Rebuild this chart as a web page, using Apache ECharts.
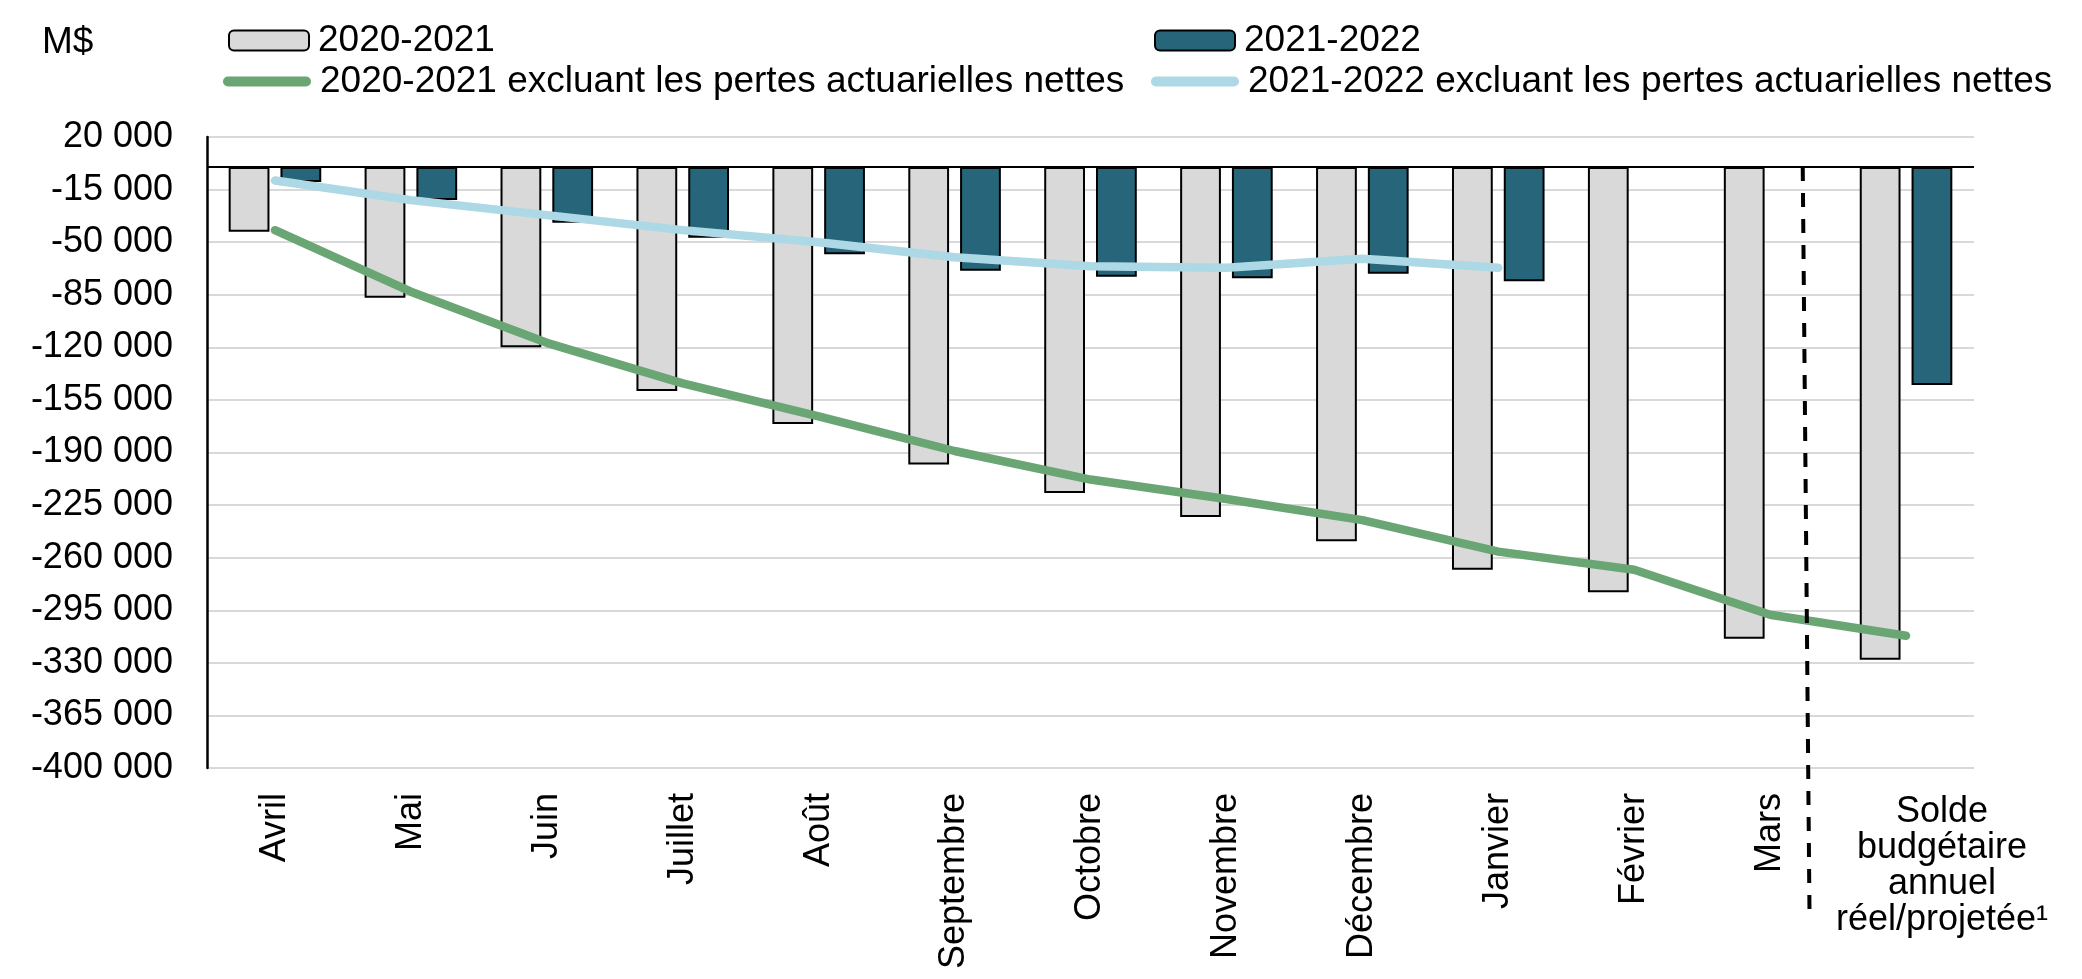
<!DOCTYPE html>
<html>
<head>
<meta charset="utf-8">
<script src="https://cdn.jsdelivr.net/npm/echarts@6/dist/echarts.min.js"></script>
<style>
  html, body { margin: 0; padding: 0; background: #fff; }
  #chart { width: 2082px; height: 979px; }
</style>
</head>
<body>
<div id="chart"></div>
<script>
// ---- Data (M$) ----
const categories = ['Avril', 'Mai', 'Juin', 'Juillet', 'Août', 'Septembre', 'Octobre', 'Novembre', 'Décembre', 'Janvier', 'Février', 'Mars', 'Solde\nbudgétaire\nannuel\nréel/projetée¹'];
const bars2020 = [-43000, -87000, -120000, -149000, -171000, -198000, -217000, -233000, -249000, -268000, -283000, -314000, -328000];
const bars2021 = [-10000, -22000, -37000, -47000, -58000, -69000, -73000, -74000, -71000, -76000, null, null, -145000];
const line2020 = [-42000, -83000, -117000, -144000, -166000, -189000, -208000, -221000, -235000, -256000, -268000, -298000, -312000];
const line2021 = [-9000, -22000, -32000, -42000, -50000, -60000, -66000, -67000, -61000, -67000, null, null, null];
const seriesNames = ['2020-2021', '2021-2022', '2020-2021 excluant les pertes actuarielles nettes', '2021-2022 excluant les pertes actuarielles nettes'];
const yTicks = { min: -400000, max: 20000, interval: 35000 };
// separator between months and annual balance, in [category position, value]
const separatorLine = [[11.74, 0], [11.79, -499000]];

const FONT = '"Liberation Sans", Arial, sans-serif';
const FS = 36;
const LFS = 37;
const fmt = v => (v < 0 ? '-' : '') + String(Math.abs(v)).replace(/\B(?=(\d{3})+(?!\d))/g, ' ');
const capsule = 'path://M5,0 L83,0 A5,5 0 0 1 83,10 L5,10 A5,5 0 0 1 5,0 Z';

const chart = echarts.init(document.getElementById('chart'), null, { renderer: 'canvas' });
const legendBase = {
  orient: 'horizontal', padding: 0, itemGap: 0,
  textStyle: { fontFamily: FONT, fontSize: LFS, color: '#000', padding: [0, 0, 0, 4] },
  selectedMode: false
};
chart.setOption({
  animation: false,
  backgroundColor: '#fff',
  textStyle: { fontFamily: FONT },
  title: { text: 'M$', left: 42, top: 24, padding: 0, textStyle: { fontFamily: FONT, fontSize: LFS, fontWeight: 'normal', color: '#000' } },
  legend: [
    Object.assign({}, legendBase, { left: 228, top: 22, itemWidth: 80, itemHeight: 20, data: [seriesNames[0]] }),
    Object.assign({}, legendBase, { left: 1154, top: 22, itemWidth: 80, itemHeight: 20, data: [seriesNames[1]] }),
    Object.assign({}, legendBase, { left: 223, top: 63, itemWidth: 88, itemHeight: 10, icon: capsule, data: [seriesNames[2]] }),
    Object.assign({}, legendBase, { left: 1151, top: 63, itemWidth: 88, itemHeight: 10, icon: capsule, data: [seriesNames[3]] })
  ],
  grid: { left: 207, right: 108, top: 137, bottom: 211, containLabel: false },
  xAxis: [
    {
      type: 'category', data: categories, position: 'bottom',
      axisLine: { show: false }, axisTick: { show: false },
      axisLabel: { interval: 0, rotate: 90, margin: 25, fontFamily: FONT, fontSize: FS, color: '#000',
        formatter: (v, i) => (i === categories.length - 1 ? '' : v) }
    },
    {
      type: 'category', data: categories, position: 'bottom', gridIndex: 0,
      axisLine: { show: false }, axisTick: { show: false }, splitLine: { show: false },
      axisLabel: { interval: 0, rotate: 0, margin: 26, fontFamily: FONT, fontSize: FS, color: '#000', lineHeight: 36,
        align: 'center', padding: [0, 0, 0, 72],
        formatter: (v, i) => (i === categories.length - 1 ? v : '') }
    },
    { type: 'value', min: 0, max: categories.length, show: false }
  ],
  yAxis: {
    type: 'value', min: yTicks.min, max: yTicks.max, interval: yTicks.interval,
    axisLine: { show: true, lineStyle: { color: '#000', width: 2.5 } },
    axisTick: { show: false },
    splitLine: { show: true, lineStyle: { color: '#D9D9D9', width: 2 } },
    axisLabel: { margin: 34, fontFamily: FONT, fontSize: FS, color: '#000', formatter: fmt }
  },
  series: [
    {
      name: seriesNames[0], type: 'bar', data: bars2020, barWidth: '30%', barGap: '27%',
      itemStyle: { color: '#D9D9D9', borderColor: '#000', borderWidth: 2 },
      markLine: { silent: true, symbol: ['none', 'none'], label: { show: false },
        lineStyle: { color: '#000', width: 2, type: 'solid' }, data: [{ yAxis: 0 }] }
    },
    {
      name: seriesNames[1], type: 'bar', data: bars2021, barWidth: '30%', barGap: '27%',
      itemStyle: { color: '#27667A', borderColor: '#000', borderWidth: 2 }
    },
    {
      name: seriesNames[2], type: 'line', data: line2020, symbol: 'none', z: 5,
      itemStyle: { color: '#6AA574' },
      lineStyle: { color: '#6AA574', width: 8.5, cap: 'round', join: 'round' }
    },
    {
      name: seriesNames[3], type: 'line', data: line2021, symbol: 'none', z: 5,
      itemStyle: { color: '#ADD8E6' },
      lineStyle: { color: '#ADD8E6', width: 8.5, cap: 'round', join: 'round' }
    },
    {
      name: 'separateur', type: 'line', xAxisIndex: 2, data: separatorLine, symbol: 'none', clip: false, silent: true, z: 6,
      lineStyle: { color: '#000', width: 4, type: [14, 12] }
    }
  ]
});
</script>
</body>
</html>
